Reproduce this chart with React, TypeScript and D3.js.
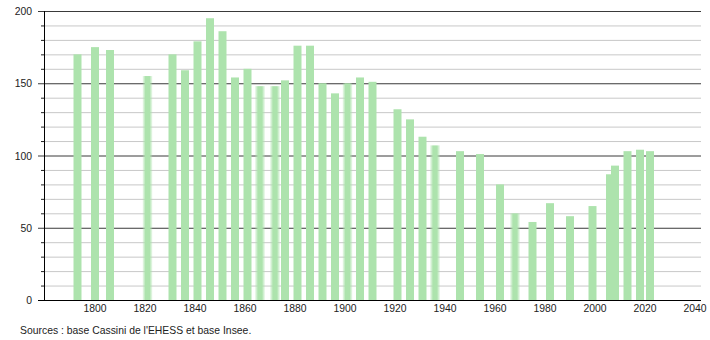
import React from "react";
import * as d3 from "d3";

const years = [1793, 1800, 1806, 1821, 1831, 1836, 1841, 1846, 1851, 1856, 1861, 1866, 1872, 1876, 1881, 1886, 1891, 1896, 1901, 1906, 1911, 1921, 1926, 1931, 1936, 1946, 1954, 1962, 1968, 1975, 1982, 1990, 1999, 2006, 2008, 2013, 2018, 2022];
const population = [170, 175, 173, 155, 170, 159, 179, 195, 186, 154, 160, 148, 148, 152, 176, 176, 150, 143, 150, 154, 151, 132, 125, 113, 107, 103, 101, 80, 60, 54, 67, 58, 65, 87, 93, 103, 104, 103];
const softYears = [1821, 1866, 1872, 1901, 1936, 1968];
const xTicks = [1800, 1820, 1840, 1860, 1880, 1900, 1920, 1940, 1960, 1980, 2000, 2020, 2040];
const yMajor = [0, 50, 100, 150, 200];
const yMinor = d3.range(0, 201, 10);
const source = "Sources : base Cassini de l'EHESS et base Insee.";

export default function App() {
  const W = 710, H = 340;
  const left = 44, right = 701, top = 11, bottom = 300;
  const x = d3.scaleLinear().domain([1800, 2040]).range([95, 695]);
  const y = d3.scaleLinear().domain([0, 200]).range([bottom, top]);
  const barW = 8;
  const font = "'Liberation Sans', Arial, sans-serif";
  const fs = 10.4;
  return (
    <svg width={W} height={H} style={{ position: "absolute", left: 0, top: 0, background: "#fff" }}>
      <defs>
        <linearGradient id="soft" x1="0" x2="1" y1="0" y2="0">
          <stop offset="0%" stopColor="#ade3ad" stopOpacity={0.15} />
          <stop offset="30%" stopColor="#ade3ad" stopOpacity={1} />
          <stop offset="70%" stopColor="#ade3ad" stopOpacity={1} />
          <stop offset="100%" stopColor="#ade3ad" stopOpacity={0.15} />
        </linearGradient>
      </defs>
      {yMinor.filter((v) => v % 50 !== 0).map((v) => (
        <g key={"m" + v}>
          <line x1={left} x2={right} y1={y(v) + 0.5} y2={y(v) + 0.5} stroke="#c8c8c8" strokeWidth={1} />
          <line x1={left - 3} x2={left} y1={y(v) + 0.5} y2={y(v) + 0.5} stroke="#222" strokeWidth={1} />
        </g>
      ))}
      {yMajor.map((v) => (
        <g key={"M" + v}>
          <line x1={left - 6} x2={right} y1={y(v) + 0.5} y2={y(v) + 0.5} stroke={v === 0 ? "#000" : "#3a3a3a"} strokeWidth={1} />
          <text x={32} y={y(v) + 4} textAnchor="end" fontFamily={font} fontSize={fs} fill="#222">{v}</text>
        </g>
      ))}
      {years.map((yr, i) => {
        const soft = softYears.includes(yr);
        const w = soft ? barW + 2 : barW;
        return (
          <rect key={yr} x={x(yr) - w / 2} y={y(population[i])} width={w} height={bottom - y(population[i])} fill={soft ? "url(#soft)" : "#ade3ad"} />
        );
      })}
      <line x1={left + 0.5} x2={left + 0.5} y1={top} y2={bottom} stroke="#000" strokeWidth={1} />
      {xTicks.map((t) => (
        <text key={t} x={x(t)} y={312} textAnchor="middle" fontFamily={font} fontSize={fs} fill="#222">{t}</text>
      ))}
      <text x={20} y={334} fontFamily={font} fontSize={fs} fill="#222">{source}</text>
    </svg>
  );
}
